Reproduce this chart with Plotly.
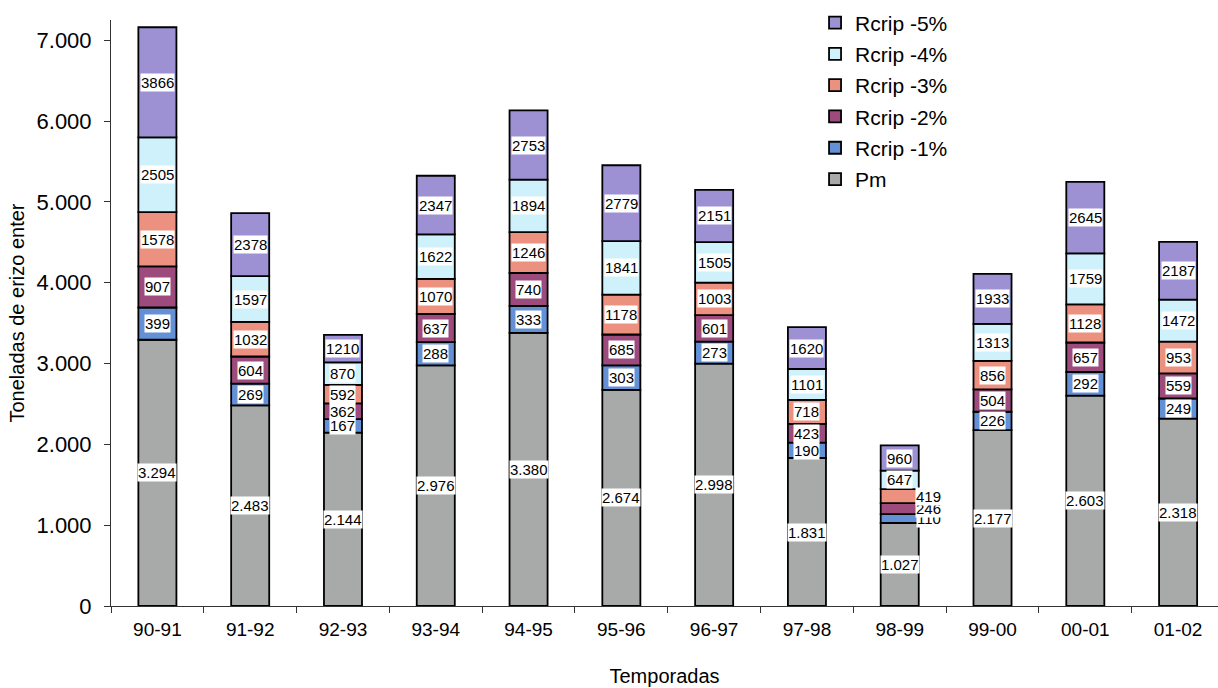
import plotly.graph_objects as go

# Sea urchin landings per season (Pm) and cumulative reductions under each scenario
seasons = ["90-91", "91-92", "92-93", "93-94", "94-95", "95-96",
           "96-97", "97-98", "98-99", "99-00", "00-01", "01-02"]
pm = [3294, 2483, 2144, 2976, 3380, 2674, 2998, 1831, 1027, 2177, 2603, 2318]
rcrip_1 = [399, 269, 167, 288, 333, 303, 273, 190, 110, 226, 292, 249]
rcrip_2 = [907, 604, 362, 637, 740, 685, 601, 423, 246, 504, 657, 559]
rcrip_3 = [1578, 1032, 592, 1070, 1246, 1178, 1003, 718, 419, 856, 1128, 953]
rcrip_4 = [2505, 1597, 870, 1622, 1894, 1841, 1505, 1101, 647, 1313, 1759, 1472]
rcrip_5 = [3866, 2378, 1210, 2347, 2753, 2779, 2151, 1620, 960, 1933, 2645, 2187]

series_names = ["Rcrip -1%", "Rcrip -2%", "Rcrip -3%", "Rcrip -4%", "Rcrip -5%"]
series_values = [rcrip_1, rcrip_2, rcrip_3, rcrip_4, rcrip_5]
series_colors = ["#6490d6", "#9c4b7c", "#ec9080", "#cff1fb", "#9d91d4"]
pm_color = "#a7aaa9"

# labels drawn beside the bar instead of inside it
outside_labels = {("98-99", "Rcrip -1%"), ("98-99", "Rcrip -2%"), ("98-99", "Rcrip -3%")}

FONT = "Liberation Sans, Arial, sans-serif"
BAR_W = 0.41
OUTLINE = dict(color="black", width=1.8)

fig = go.Figure()
annotations = []


def fmt_dot(v):
    return f"{v:,}".replace(",", ".")


# Pm segment
fig.add_trace(go.Bar(
    x=seasons, y=pm, base=[0] * len(pm), name="Pm",
    marker=dict(color=pm_color, line=OUTLINE), width=BAR_W,
    legendgroup="Pm", legendrank=6,
))
for s, v in zip(seasons, pm):
    annotations.append(dict(x=s, y=v / 2, text=fmt_dot(v)))

# Reduction segments: each one spans from Pm + previous cumulative to Pm + current cumulative
prev = [0] * len(pm)
for i, (name, vals, col) in enumerate(zip(series_names, series_values, series_colors)):
    base = [p + q for p, q in zip(pm, prev)]
    height = [v - q for v, q in zip(vals, prev)]
    fig.add_trace(go.Bar(
        x=seasons, y=height, base=base, name=name,
        marker=dict(color=col, line=OUTLINE), width=BAR_W,
        legendgroup=name, legendrank=5 - i,
    ))
    for s, b, h, v in zip(seasons, base, height, vals):
        a = dict(x=s, y=b + h / 2, text=str(v))
        if (s, name) in outside_labels:
            a["xshift"] = 29
        annotations.append(a)
    prev = vals

for a in annotations:
    a.update(showarrow=False, bgcolor="white", borderpad=0,
             font=dict(family=FONT, size=15, color="black"),
             xref="x", yref="y")

fig.update_layout(
    width=1218, height=688,
    margin=dict(l=111, r=0, t=20, b=82),
    paper_bgcolor="white", plot_bgcolor="white",
    barmode="overlay",
    separators=",.",
    font=dict(family=FONT, color="black"),
    annotations=annotations,
    showlegend=True,
    legend=dict(
        x=0.636, y=1.03, xanchor="left", yanchor="top",
        traceorder="grouped", tracegroupgap=1,
        font=dict(family=FONT, size=21, color="black"),
        bgcolor="rgba(0,0,0,0)",
    ),
    xaxis=dict(
        type="category", categoryorder="array", categoryarray=seasons,
        range=[-0.5, 11.43], showline=True, linecolor="#333", linewidth=1,
        ticks="outside", tickson="boundaries", ticklen=6, tickcolor="#333",
        ticklabelstandoff=6,
        tickfont=dict(size=19), showgrid=False,
        title=dict(text="Temporadas", font=dict(size=20), standoff=30),
    ),
    yaxis=dict(
        range=[0, 7250], tickvals=[0, 1000, 2000, 3000, 4000, 5000, 6000, 7000],
        tickformat=",d", showline=True, linecolor="#333", linewidth=1,
        ticks="outside", ticklen=6, tickcolor="#333", ticklabelstandoff=8,
        tickfont=dict(size=22), showgrid=False, zeroline=False,
        title=dict(text="Toneladas de erizo enter", font=dict(size=20), standoff=6),
    ),
)

fig.write_html("out.html")
